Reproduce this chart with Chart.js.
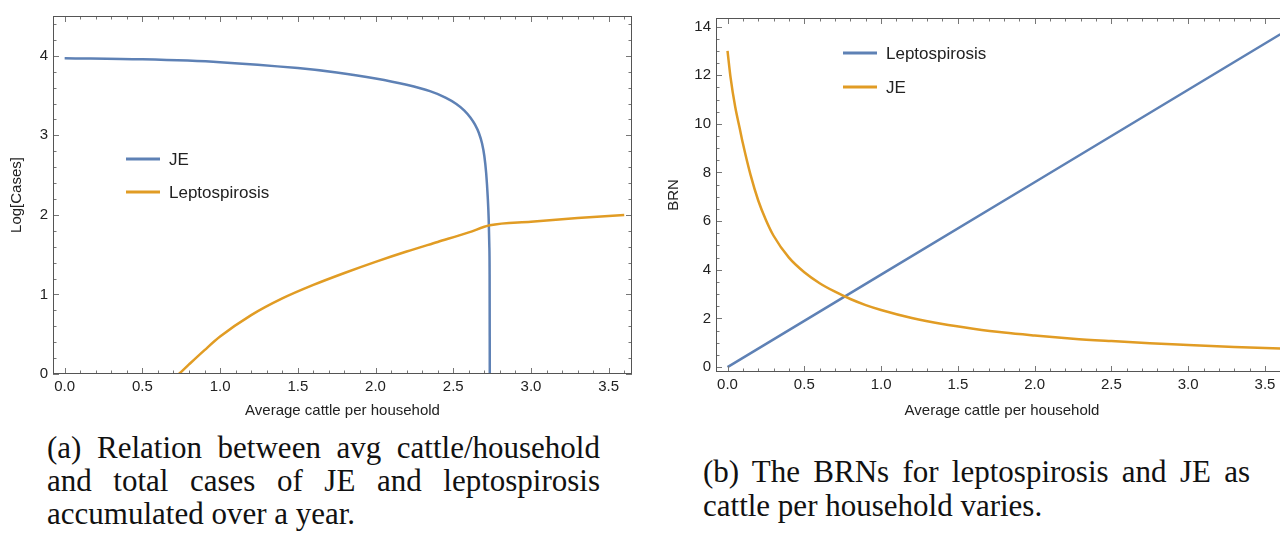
<!DOCTYPE html>
<html>
<head>
<meta charset="utf-8">
<script src="https://cdn.jsdelivr.net/npm/chart.js@4.4.1/dist/chart.umd.min.js"></script>
<style>
  html, body { margin: 0; padding: 0; background: #fff; width: 1280px; height: 539px; overflow: hidden; position: relative; }
  .box { position: absolute; top: 0; width: 640px; height: 420px; }
  #boxA { left: 0; }
  #boxB { left: 650px; }
  .cap { position: absolute; font-family: "Liberation Serif", "Times New Roman", serif; font-size: 31px; color: #111; }
  .cap div { white-space: nowrap; }
  .cap .j { text-align: justify; text-align-last: justify; }
  #capA { left: 47px; top: 431px; width: 553px; line-height: 33px; }
  #capB { left: 703px; top: 455px; width: 547px; line-height: 34px; }
</style>
</head>
<body>
<div class="box" id="boxA"><canvas id="chartA" width="640" height="420"></canvas></div>
<div class="box" id="boxB"><canvas id="chartB" width="640" height="420"></canvas></div>
<div class="cap" id="capA">
  <div class="j">(a) Relation between avg cattle/household</div>
  <div class="j">and total cases of JE and leptospirosis</div>
  <div>accumulated over a year.</div>
</div>
<div class="cap" id="capB">
  <div class="j">(b) The BRNs for leptospirosis and JE as</div>
  <div>cattle per household varies.</div>
</div>
<script>
/* Two Mathematica-style framed plots: log cases (a) and BRN (b) vs cattle per household */

const BLUE = '#5E81B5';
const ORANGE = '#E19C24';

// (a) Log[Cases]
const jeCasesX = [0, 0.5, 1.0, 1.5, 1.75, 2.0, 2.2, 2.35, 2.45, 2.52, 2.57, 2.61, 2.64, 2.665, 2.685, 2.70, 2.712, 2.722, 2.728, 2.732, 2.734, 2.735];
const jeCasesY = [3.97, 3.955, 3.92, 3.845, 3.79, 3.715, 3.635, 3.555, 3.475, 3.395, 3.315, 3.225, 3.135, 3.03, 2.90, 2.74, 2.52, 2.22, 1.95, 1.62, 1.25, 0];
const leptoCasesX = [0.735, 0.8, 0.9, 1.0, 1.2, 1.4, 1.6, 1.8, 2.0, 2.2, 2.4, 2.6, 2.735, 3.0, 3.3, 3.6];
const leptoCasesY = [0, 0.12, 0.30, 0.47, 0.74, 0.95, 1.12, 1.27, 1.41, 1.54, 1.66, 1.78, 1.87, 1.915, 1.96, 2.0];

// (b) BRN
const leptoBrnX = [0, 1.0, 2.0, 3.0, 3.6];
const leptoBrnY = [0, 3.8, 7.6, 11.4, 13.68];
const jeBrnX = [0, 0.02, 0.05, 0.08, 0.1, 0.15, 0.2, 0.25, 0.3, 0.4, 0.5, 0.6, 0.7, 0.8, 0.9, 1.0, 1.2, 1.4, 1.6, 1.8, 2.0, 2.25, 2.5, 2.75, 3.0, 3.3, 3.6];
const jeBrnY = [13.0, 11.9, 10.7, 9.8, 9.2, 7.9, 6.85, 6.05, 5.4, 4.5, 3.9, 3.45, 3.1, 2.8, 2.55, 2.35, 2.02, 1.77, 1.58, 1.42, 1.3, 1.17, 1.07, 0.98, 0.91, 0.83, 0.77];

// tick labels
const xTicks = [0, 0.5, 1.0, 1.5, 2.0, 2.5, 3.0, 3.5];
const casesTicks = [0, 1, 2, 3, 4];
const brnTicks = [0, 2, 4, 6, 8, 10, 12, 14];

function points(xs, ys) {
  return xs.map((x, i) => ({ x, y: ys[i] }));
}

function minorTicks(min, max, step) {
  const out = [];
  for (let v = Math.ceil(min / step) * step; v <= max + 1e-9; v += step) out.push(+v.toFixed(4));
  return out;
}

// frame with inward ticks on all four sides
const frameTicks = {
  id: 'frameTicks',
  afterDatasetsDraw(chart, args, opts) {
    const { ctx, chartArea: a, scales } = chart;
    ctx.save();
    ctx.lineWidth = 1;
    ctx.strokeStyle = '#777';
    const draw = (scale, vals, len) => {
      vals.forEach(v => {
        if (v < scale.min || v > scale.max) return;
        const p = Math.round(scale.getPixelForValue(v)) + 0.5;
        ctx.beginPath();
        if (scale.isHorizontal()) {
          ctx.moveTo(p, a.bottom); ctx.lineTo(p, a.bottom - len);
          ctx.moveTo(p, a.top); ctx.lineTo(p, a.top + len);
        } else {
          ctx.moveTo(a.left, p); ctx.lineTo(a.left + len, p);
          ctx.moveTo(a.right, p); ctx.lineTo(a.right - len, p);
        }
        ctx.stroke();
      });
    };
    draw(scales.x, opts.xMinor, 3.5);
    draw(scales.y, opts.yMinor, 3.5);
    draw(scales.x, opts.xMajor, 6);
    draw(scales.y, opts.yMajor, 6);
    ctx.strokeStyle = '#555';
    ctx.strokeRect(Math.round(a.left) + 0.5, Math.round(a.top) + 0.5, Math.round(a.width) - 1, Math.round(a.height) - 1);
    ctx.restore();
  }
};

// legend drawn inside the plot, like Mathematica's PlotLegends placement
const insideLegend = {
  id: 'insideLegend',
  afterDraw(chart, args, opts) {
    const { ctx } = chart;
    ctx.save();
    ctx.font = '17px "Liberation Sans", Arial, sans-serif';
    ctx.textBaseline = 'middle';
    ctx.fillStyle = '#222';
    opts.items.forEach((ds, i) => {
      const d = chart.data.datasets[ds];
      const y = opts.y + i * opts.gap;
      ctx.strokeStyle = d.borderColor;
      ctx.lineWidth = 3;
      ctx.beginPath();
      ctx.moveTo(opts.x, y);
      ctx.lineTo(opts.x + 34, y);
      ctx.stroke();
      ctx.fillText(d.label, opts.x + 43, y + 1);
    });
    ctx.restore();
  }
};

const tickFont = { family: '"Liberation Sans", Arial, sans-serif', size: 15 };

function lineSet(label, data, color, order) {
  return {
    label, data, order,
    borderColor: color,
    borderWidth: 2.5,
    pointRadius: 0,
    fill: false,
    cubicInterpolationMode: 'monotone'
  };
}

function xScale(xHeight) {
  return {
    type: 'linear',
    min: -0.075,
    max: 3.65,
    afterBuildTicks: s => { s.ticks = xTicks.map(v => ({ value: v })); },
    afterFit: s => { s.height = xHeight; },
    grid: { display: false, drawTicks: false },
    border: { display: false },
    ticks: { font: tickFont, color: '#222', padding: 4, maxRotation: 0, callback: v => v.toFixed(1) },
    title: { display: true, text: 'Average cattle per household', font: tickFont, color: '#222', padding: { top: 0, bottom: 0 } }
  };
}

function yScale(min, max, list, width, label, titlePad) {
  return {
    type: 'linear',
    min, max,
    afterBuildTicks: s => { s.ticks = list.map(v => ({ value: v })); },
    afterFit: s => { s.width = width; },
    grid: { display: false, drawTicks: false },
    border: { display: false },
    ticks: { font: tickFont, color: '#222', padding: 5, callback: v => String(v) },
    title: { display: true, text: label, font: tickFont, color: '#222', padding: { top: titlePad, bottom: 0 } }
  };
}

const baseOptions = {
  responsive: false,
  animation: false,
  events: [],
  plugins: { legend: { display: false }, tooltip: { enabled: false } }
};

new Chart(document.getElementById('chartA'), {
  type: 'line',
  data: {
    datasets: [
      lineSet('JE', points(jeCasesX, jeCasesY), BLUE, 1),
      lineSet('Leptospirosis', points(leptoCasesX, leptoCasesY), ORANGE, 0)
    ]
  },
  options: {
    ...baseOptions,
    layout: { padding: { top: 16, right: 8, left: 0, bottom: 0 } },
    scales: {
      x: xScale(46),
      y: yScale(0, 4.5, casesTicks, 53, 'Log[Cases]', 8)
    },
    plugins: {
      ...baseOptions.plugins,
      frameTicks: { xMajor: xTicks, xMinor: minorTicks(-0.075, 3.65, 0.1), yMajor: casesTicks, yMinor: minorTicks(0, 4.5, 0.2) },
      insideLegend: { x: 126, y: 159, gap: 33, items: [0, 1] }
    }
  },
  plugins: [frameTicks, insideLegend]
});

new Chart(document.getElementById('chartB'), {
  type: 'line',
  data: {
    datasets: [
      lineSet('Leptospirosis', points(leptoBrnX, leptoBrnY), BLUE, 1),
      lineSet('JE', points(jeBrnX, jeBrnY), ORANGE, 0)
    ]
  },
  options: {
    ...baseOptions,
    layout: { padding: { top: 18, right: 2, left: 0, bottom: 0 } },
    scales: {
      x: xScale(48),
      y: yScale(-0.2, 14.35, brnTicks, 66, 'BRN', 15)
    },
    plugins: {
      ...baseOptions.plugins,
      frameTicks: { xMajor: xTicks, xMinor: minorTicks(-0.075, 3.65, 0.1), yMajor: brnTicks, yMinor: minorTicks(-0.2, 14.35, 0.5) },
      insideLegend: { x: 193, y: 53, gap: 34, items: [0, 1] }
    }
  },
  plugins: [frameTicks, insideLegend]
});
</script>
</body>
</html>
